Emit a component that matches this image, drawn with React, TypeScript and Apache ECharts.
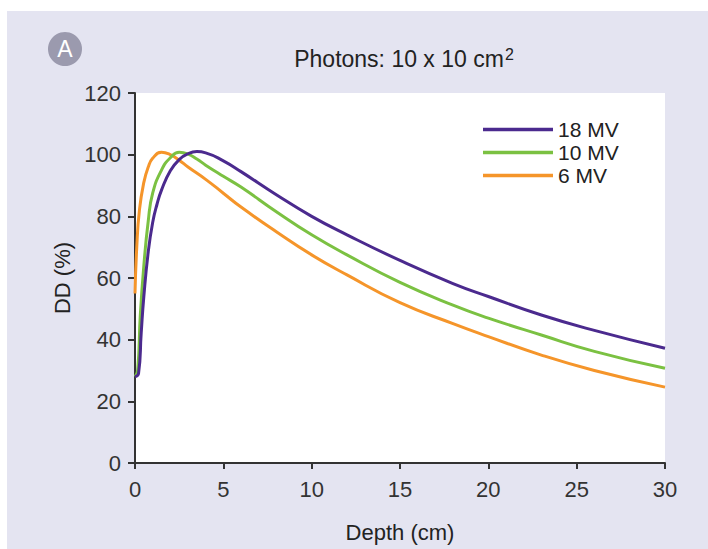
import React, { useEffect, useRef } from "react";
import * as echarts from "echarts";

const seriesNames = ["18 MV", "10 MV", "6 MV"];
const colors = ["#4b2a8e", "#7bc142", "#f5952a"];

const depth18 = [0, 0.2, 0.35, 0.5, 0.75, 1, 1.25, 1.5, 2, 2.5, 3, 3.5, 4, 5, 6, 8, 10, 12, 15, 18, 20, 23, 26, 30];
const dd18 = [28, 29, 42, 54, 68.5, 78, 84, 88.5, 94.8, 98.4, 100.3, 101, 100.6, 98, 94.5, 87, 80, 74, 65.7, 58.2, 54, 48, 43, 37.2];

const depth10 = [0, 0.15, 0.3, 0.5, 0.75, 1, 1.5, 2, 2.5, 3, 3.5, 4, 5, 6, 8, 10, 12, 15, 18, 20, 23, 26, 30];
const dd10 = [28, 30, 48, 64, 78.5, 87.5, 95, 99, 100.8, 100.2, 98.6, 96.6, 93, 89.5, 81.5, 74, 67.5, 58.6, 51.2, 47, 41.5, 36.2, 30.7];

const depth6 = [0, 0.1, 0.25, 0.5, 0.75, 1, 1.5, 2, 2.5, 3, 4, 5, 6, 8, 10, 12, 15, 18, 20, 23, 26, 30];
const dd6 = [55, 70, 82, 91, 96, 98.8, 100.8, 100, 98.2, 96, 92, 87.5, 83, 75, 67.5, 61, 52, 45.2, 41, 35, 30, 24.6];

const xTicks = { min: 0, max: 30, interval: 5 };
const yTicks = { min: 0, max: 120, interval: 20 };

const FONT = "Liberation Sans, Arial, Helvetica, sans-serif";
const TEXT = "#222222";

function pairs(xs: number[], ys: number[]) {
  return xs.map((x, i) => [x, ys[i]]);
}

export default function App() {
  const ref = useRef<HTMLDivElement>(null);
  useEffect(() => {
    document.body.style.margin = "0";
    if (!ref.current) return;
    const chart = echarts.init(ref.current, null, { renderer: "svg" });
    const data = [pairs(depth18, dd18), pairs(depth10, dd10), pairs(depth6, dd6)];
    const order = [2, 1, 0];
    chart.setOption({
      animation: false,
      textStyle: { fontFamily: FONT },
      title: {
        text: "{a|Photons: 10 x 10 cm}{sup|2}",
        left: 399,
        top: 41,
        textAlign: "center",
        textStyle: {
          fontWeight: "normal",
          rich: {
            a: { fontSize: 23, color: TEXT, fontFamily: FONT, fontWeight: "normal", lineHeight: 26 },
            sup: { fontSize: 16, color: TEXT, fontFamily: FONT, fontWeight: "normal", verticalAlign: "top", lineHeight: 20, padding: [0, 0, 0, 1] },
          },
        },
      },
      legend: {
        orient: "vertical",
        left: 483,
        top: 119,
        padding: 0,
        itemWidth: 70,
        itemHeight: 3.5,
        itemGap: 2,
        icon: "rect",
        data: seriesNames,
        textStyle: { fontSize: 21, color: TEXT, fontFamily: FONT },
      },
      grid: {
        left: 135,
        right: 43,
        top: 93,
        bottom: 86,
        show: true,
        backgroundColor: "#ffffff",
        borderWidth: 0,
      },
      xAxis: {
        type: "value",
        ...xTicks,
        name: "Depth (cm)",
        nameLocation: "middle",
        nameGap: 58,
        nameTextStyle: { fontSize: 22, color: TEXT, fontFamily: FONT, verticalAlign: "top" },
        axisLine: { show: true, lineStyle: { color: "#333", width: 2 } },
        axisTick: { show: true, length: 6, lineStyle: { color: "#333", width: 2 } },
        axisLabel: { fontSize: 22, color: "#333", margin: 15, fontFamily: FONT },
        splitLine: { show: false },
      },
      yAxis: {
        type: "value",
        ...yTicks,
        name: "DD (%)",
        nameLocation: "middle",
        nameGap: 62,
        nameTextStyle: { fontSize: 22, color: TEXT, fontFamily: FONT },
        axisLine: { show: true, lineStyle: { color: "#333", width: 2 } },
        axisTick: { show: true, length: 7, lineStyle: { color: "#333", width: 2 } },
        axisLabel: { fontSize: 22, color: "#333", margin: 14, fontFamily: FONT },
        splitLine: { show: false },
      },
      graphic: [
        {
          type: "circle",
          shape: { cx: 65, cy: 49, r: 17 },
          style: { fill: "#9b9aae" },
          silent: true,
        },
        {
          type: "text",
          x: 65,
          y: 49,
          style: {
            text: "A",
            fill: "#ffffff",
            fontSize: 23,
            fontFamily: FONT,
            textAlign: "center",
            textVerticalAlign: "middle",
          },
          silent: true,
        },
      ],
      series: order.map((i) => ({
        name: seriesNames[i],
        type: "line",
        data: data[i],
        showSymbol: false,
        symbol: "none",
        smooth: true,
        lineStyle: { color: colors[i], width: 3 },
        itemStyle: { color: colors[i] },
      })),
    });
    return () => chart.dispose();
  }, []);
  return (
    <div style={{ position: "relative", width: 708, height: 549, background: "#ffffff" }}>
      <div style={{ position: "absolute", left: 7, top: 11, right: 0, bottom: 0, background: "#e4e4f1" }} />
      <div ref={ref} style={{ position: "absolute", left: 0, top: 0, width: 708, height: 549 }} />
    </div>
  );
}
